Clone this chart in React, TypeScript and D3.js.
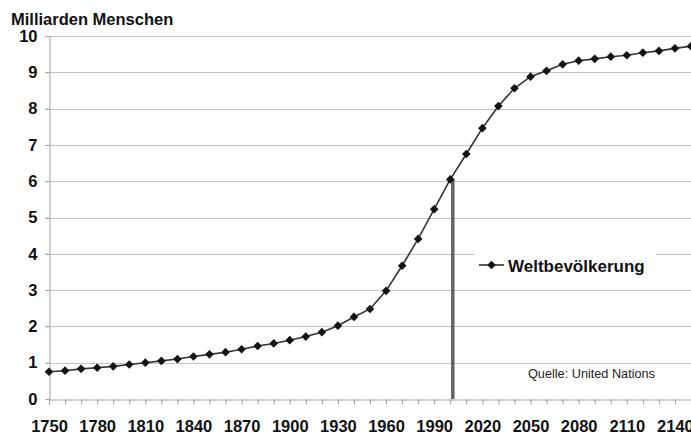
import React, { useRef, useEffect } from "react";
import * as d3 from "d3";

const years = [
  1750, 1760, 1770, 1780, 1790, 1800, 1810, 1820, 1830, 1840, 1850, 1860,
  1870, 1880, 1890, 1900, 1910, 1920, 1930, 1940, 1950, 1960, 1970, 1980,
  1990, 2000, 2010, 2020, 2030, 2040, 2050, 2060, 2070, 2080, 2090, 2100,
  2110, 2120, 2130, 2140, 2150,
];
const population = [
  0.75, 0.78, 0.83, 0.86, 0.9, 0.95, 1.0, 1.05, 1.1, 1.17, 1.23, 1.29, 1.37,
  1.46, 1.53, 1.62, 1.72, 1.84, 2.02, 2.26, 2.48, 2.98, 3.67, 4.41, 5.23, 6.05,
  6.75, 7.46, 8.07, 8.56, 8.88, 9.04, 9.22, 9.32, 9.37, 9.43, 9.47, 9.54, 9.59,
  9.66, 9.72,
];
const yearLabels = [
  1750, 1780, 1810, 1840, 1870, 1900, 1930, 1960, 1990, 2020, 2050, 2080,
  2110, 2140,
];
const yTicks = [0, 1, 2, 3, 4, 5, 6, 7, 8, 9, 10];
const markedYear = 2000;
const seriesName = "Weltbevölkerung";
const unitLabel = "Milliarden Menschen";
const sourceLabel = "Quelle: United Nations";

const App = () => {
  const ref = useRef(null);

  useEffect(() => {
    const width = 691;
    const height = 434;
    const margin = { top: 36, right: 0, bottom: 35, left: 49 };
    const font = "'Liberation Sans', Arial, sans-serif";

    d3.select(ref.current).selectAll("*").remove();

    const svg = d3
      .select(ref.current)
      .append("svg")
      .attr("width", width)
      .attr("height", height)
      .style("display", "block")
      .style("background", "#fff");

    const x = d3
      .scaleLinear()
      .domain([1750, 2150])
      .range([margin.left, width - margin.right]);

    const y = d3
      .scaleLinear()
      .domain([0, 10])
      .range([height - margin.bottom, margin.top]);

    // Gitternetz
    svg
      .append("g")
      .attr("stroke", "#c4c4c4")
      .attr("stroke-width", 1)
      .selectAll("line")
      .data(yTicks.filter((d) => d > 0))
      .join("line")
      .attr("x1", margin.left - 4)
      .attr("x2", width)
      .attr("y1", (d) => Math.round(y(d)) + 0.5)
      .attr("y2", (d) => Math.round(y(d)) + 0.5);

    // y-Achse
    const yAxis = svg
      .append("g")
      .attr("transform", `translate(${margin.left + 0.5},0)`)
      .call(
        d3
          .axisLeft(y)
          .tickValues(yTicks)
          .tickSize(4)
          .tickPadding(8)
          .tickFormat(d3.format("d"))
      );
    yAxis.select(".domain").attr("stroke", "#a0a0a0");
    yAxis.selectAll(".tick line").attr("stroke", "#a0a0a0");
    yAxis
      .selectAll("text")
      .attr("font-family", font)
      .attr("font-size", "16.5px")
      .attr("font-weight", "bold")
      .attr("fill", "#111");

    // x-Achse
    const xAxis = svg
      .append("g")
      .attr("transform", `translate(0,${Math.round(y(0)) + 0.5})`)
      .call(
        d3
          .axisBottom(x)
          .tickValues(years)
          .tickSize(5)
          .tickPadding(16)
          .tickFormat((d) => (yearLabels.includes(d) ? String(d) : ""))
      );
    xAxis.select(".domain").attr("stroke", "#a0a0a0");
    xAxis.selectAll(".tick line").attr("stroke", "#a0a0a0");
    xAxis
      .selectAll("text")
      .attr("font-family", font)
      .attr("font-size", "16.5px")
      .attr("font-weight", "bold")
      .attr("fill", "#111");

    // Markierung Jahr 2000
    const markedValue = population[years.indexOf(markedYear)];
    svg
      .append("rect")
      .attr("x", x(markedYear) + 0.8)
      .attr("y", y(markedValue))
      .attr("width", 3.5)
      .attr("height", y(0) - y(markedValue))
      .attr("fill", "#636363");

    const data = years.map((yr, i) => ({ year: yr, value: population[i] }));

    const line = d3
      .line()
      .x((d) => x(d.year))
      .y((d) => y(d.value));

    svg
      .append("path")
      .datum(data)
      .attr("fill", "none")
      .attr("stroke", "#333")
      .attr("stroke-width", 1.6)
      .attr("d", line);

    const diamond = d3.symbol().type(d3.symbolDiamond2).size(48);

    svg
      .append("g")
      .attr("fill", "#141414")
      .selectAll("path")
      .data(data)
      .join("path")
      .attr("transform", (d) => `translate(${x(d.year)},${y(d.value)})`)
      .attr("d", diamond);

    // Legende
    const legend = svg.append("g");
    legend
      .append("rect")
      .attr("x", 475)
      .attr("y", 242)
      .attr("width", 181)
      .attr("height", 46)
      .attr("fill", "#fff");
    legend
      .append("line")
      .attr("x1", 479)
      .attr("x2", 504)
      .attr("y1", 265)
      .attr("y2", 265)
      .attr("stroke", "#333")
      .attr("stroke-width", 1.6);
    legend
      .append("path")
      .attr("transform", "translate(491.5,265)")
      .attr("d", diamond)
      .attr("fill", "#141414");
    legend
      .append("text")
      .attr("x", 508)
      .attr("y", 272)
      .attr("font-family", font)
      .attr("font-size", "17px")
      .attr("font-weight", "bold")
      .attr("fill", "#111")
      .text(seriesName);

    // Einheit
    svg
      .append("text")
      .attr("x", 11)
      .attr("y", 25)
      .attr("font-family", font)
      .attr("font-size", "16.5px")
      .attr("font-weight", "bold")
      .attr("fill", "#111")
      .text(unitLabel);

    // Quelle
    svg
      .append("text")
      .attr("x", 528)
      .attr("y", 378)
      .attr("font-family", font)
      .attr("font-size", "12.7px")
      .attr("fill", "#222")
      .text(sourceLabel);
  }, []);

  return (
    <div
      ref={ref}
      style={{ position: "absolute", left: 0, top: 0, width: 691, height: 434 }}
    ></div>
  );
};

export default App;
